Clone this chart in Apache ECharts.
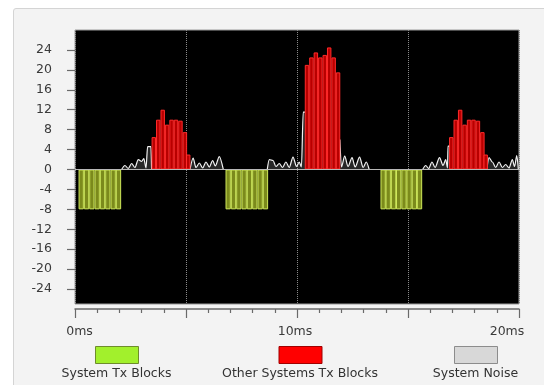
<!DOCTYPE html>
<html><head><meta charset="utf-8">
<script src="https://cdn.jsdelivr.net/npm/echarts@6/dist/echarts.min.js"></script>
<style>
html,body{margin:0;padding:0;background:#fff;}
#panel{position:absolute;left:13px;top:8px;width:545px;height:400px;background:#f3f3f3;border:1px solid #d4d4d4;border-radius:3px;box-sizing:border-box;}
#chart{position:absolute;left:0;top:0;width:544px;height:385px;}
</style></head><body>
<div id="panel"></div><div id="chart"></div>
<script>
// ---- data ----
const yTicks = [-24,-20,-16,-12,-8,-4,0,4,8,12,16,20,24];
const xTickLabels = {0:'0ms', 10:'10ms', 20:'20ms'};
const legendNames = ['System Tx Blocks','Other Systems Tx Blocks','System Noise'];

const sysTxX = [0.26,0.5,0.74,0.98,1.22,1.46,1.7,1.94,
                6.88,7.12,7.36,7.6,7.84,8.08,8.32,8.56,
                13.86,14.09,14.33,14.56,14.8,15.03,15.27,15.5];
const sysTxY = [-8,-8,-8,-8,-8,-8,-8,-8,
                -8,-8,-8,-8,-8,-8,-8,-8,
                -8,-8,-8,-8,-8,-8,-8,-8];

const otherX = [3.55,3.75,3.95,4.15,4.35,4.55,4.75,4.95,5.1,
                10.45,10.65,10.85,11.05,11.25,11.45,11.65,11.85,
                16.95,17.15,17.35,17.55,17.75,17.95,18.15,18.35,18.5];
const otherY = [6.5,10,12,9,10,10,9.8,7.5,3,
                21,22.5,23.5,22.5,23,24.5,22.5,19.5,
                6.5,10,12,9,10,10,9.8,7.5,3];

const noiseX = [2.1,2.25,2.4,2.55,2.7,2.85,3.0,3.1,3.2,3.27,3.42,3.45, 3.5,
                5.18,5.32,5.45,5.6,5.75,5.9,6.05,6.2,6.32,6.5,6.68, 6.7,
                8.66,8.75,8.92,9.05,9.2,9.35,9.5,9.65,9.82,9.98,10.1,10.2,10.28,10.36, 10.4,
                11.93,12.0,12.15,12.3,12.48,12.62,12.82,12.98,13.12,13.25, 13.3,
                15.66,15.8,15.93,16.08,16.22,16.42,16.58,16.7,16.78,16.8,16.9, 16.95,
                18.55,18.65,18.8,18.95,19.1,19.25,19.4,19.55,19.7,19.8,19.9,19.97];
const noiseY = [0,0.8,0.2,1.2,0.4,2.0,1.6,2.2,0.3,4.6,4.6,0, null,
                0,2.3,0.4,1.3,0.3,1.5,0.5,1.8,0.7,2.6,0, null,
                0,2.0,1.8,0.6,1.2,0.4,1.5,0.4,2.5,0.6,1.5,0.5,11.5,11.5, null,
                6,0.5,2.7,0.6,2.4,0.5,2.5,0.4,1.5,0, null,
                0,0.8,0.2,1.5,0.4,2.4,0.8,2.0,0.3,4.7,4.7, null,
                0,2.4,1.5,0.4,1.5,0.4,1.0,0.3,2.0,0.6,2.8,0];

// ---- helpers ----
const zip = (xs, ys) => xs.map((x, i) => [x, ys[i]]);
const FONT = 'DejaVu Sans';
const FS = 12.5;
function textWidth(t){
  const c = document.createElement('canvas').getContext('2d');
  c.font = FS + 'px "' + FONT + '"';
  return c.measureText(t).width;
}
const legendCenters = [116.5, 300, 475.5];
const legendColors = [
  {color:'#a2f02c', borderColor:'#6e8c2c', borderWidth:1},
  {color:'#ff0000', borderColor:'#a00000', borderWidth:1},
  {color:'#d8d8d8', borderColor:'#8c8c8c', borderWidth:1}
];
const legends = [];
legendNames.forEach((n, i) => {
  legends.push({
    left: legendCenters[i] - 21.5, top: 346, padding: 0,
    itemWidth: 43, itemHeight: 17, itemGap: 0, selectedMode: false,
    formatter: () => '',
    data: [{name: n, icon: 'rect', itemStyle: legendColors[i]}]
  });
  legends.push({
    left: legendCenters[i] - 5 - textWidth(n) / 2, top: 367, padding: 0,
    itemWidth: 0, itemHeight: 1, itemGap: 0, selectedMode: false,
    textStyle: {fontFamily: FONT, fontSize: FS, color: '#333'},
    data: [{name: n, icon: 'rect', itemStyle: {color: 'rgba(0,0,0,0)', borderWidth: 0}}]
  });
});

const AX = '#6a6a6a';
const chart = echarts.init(document.getElementById('chart'));
chart.setOption({
  animation: false,
  legend: legends,
  grid: {left: 75, right: 25, top: 30, bottom: 81, show: true,
         backgroundColor: '#000', borderColor: '#9a9a9a', borderWidth: 1},
  xAxis: {
    type: 'value', min: 0, max: 20, interval: 5, offset: 5,
    axisLine: {show: true, onZero: false, lineStyle: {color: AX, width: 1.5}},
    axisTick: {show: true, length: 9, lineStyle: {color: AX, width: 1.2}},
    minorTick: {show: true, splitNumber: 5, length: 4, lineStyle: {color: AX, width: 1.2}},
    splitLine: {show: true, lineStyle: {color: '#8a8a8a', type: 'dotted', width: 1}},
    axisLabel: {
      margin: 16, fontFamily: FONT, fontSize: FS, color: '#3a3a3a',
      formatter: v => {
        if (v === 0) return '{a|' + xTickLabels[0] + '}';
        if (v === 10) return '{b|' + xTickLabels[10] + '}';
        if (v === 20) return '{c|' + xTickLabels[20] + '}';
        return '';
      },
      rich: {
        a: {fontFamily: FONT, fontSize: FS, color: '#3a3a3a', padding: [0, 0, 0, 9]},
        b: {fontFamily: FONT, fontSize: FS, color: '#3a3a3a', padding: [0, 4, 0, 0]},
        c: {fontFamily: FONT, fontSize: FS, color: '#3a3a3a', padding: [0, 24, 0, 0]}
      }
    }
  },
  yAxis: {
    type: 'value', min: -27, max: 28, offset: 7, position: 'left',
    axisLine: {show: false},
    axisTick: {show: true, length: 8, customValues: yTicks, lineStyle: {color: AX, width: 1.2}},
    axisLabel: {margin: 16, customValues: yTicks, fontFamily: FONT, fontSize: FS, color: '#3a3a3a'},
    splitLine: {show: false}
  },
  series: [
    {
      name: legendNames[2], type: 'line', z: 1,
      data: zip(noiseX, noiseY), connectNulls: false,
      smooth: 0.3, smoothMonotone: 'x', symbol: 'none',
      lineStyle: {color: '#f2f2f2', width: 1.2},
      itemStyle: {color: '#d8d8d8'},
      areaStyle: {color: 'rgba(255,255,255,0.22)'},
      markLine: {symbol: 'none', silent: true, label: {show: false},
        lineStyle: {color: '#b8b8b8', type: 'solid', width: 1},
        data: [{yAxis: 0}]}
    },
    {
      name: legendNames[0], type: 'bar', z: 2,
      data: zip(sysTxX, sysTxY), barWidth: 5.3, barGap: '-100%',
      itemStyle: {color: '#7b8a1c', borderColor: '#cfe85a', borderWidth: 1}
    },
    {
      name: legendNames[1], type: 'bar', z: 3,
      data: zip(otherX, otherY), barWidth: 4.44, barGap: '-100%',
      itemStyle: {color: '#b80000', borderColor: '#ff2a2a', borderWidth: 1}
    }
  ]
});
</script>
</body></html>
